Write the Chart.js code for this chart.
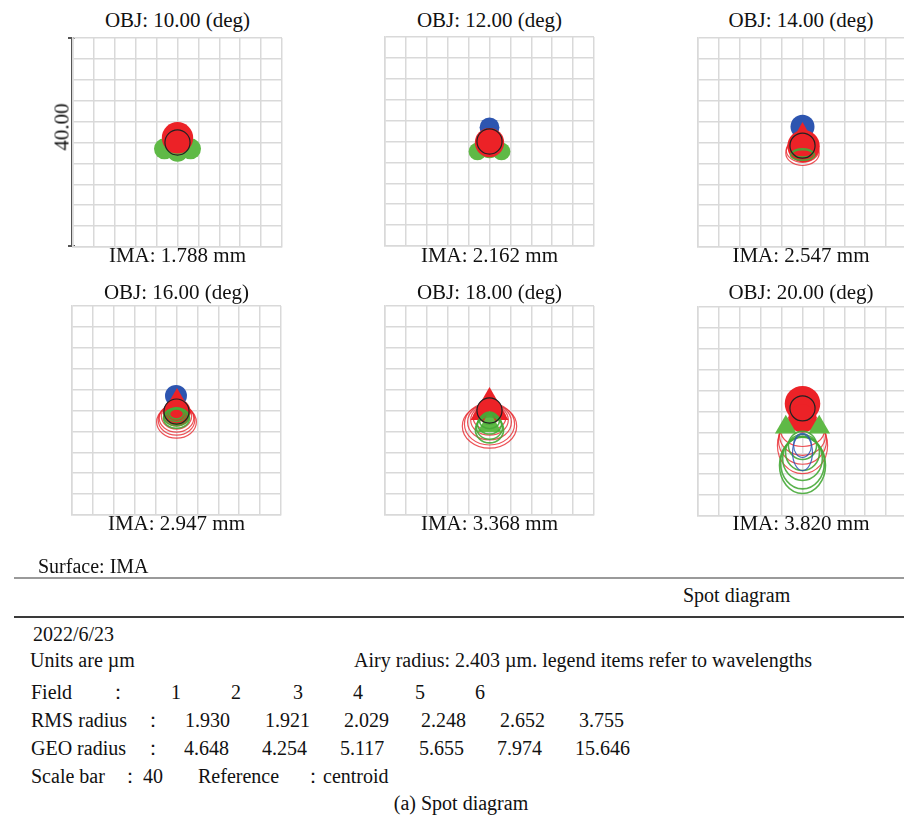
<!DOCTYPE html>
<html>
<head>
<meta charset="utf-8">
<script src="https://cdn.jsdelivr.net/npm/chart.js@4.4.1/dist/chart.umd.min.js"></script>
<style>
body{margin:0;width:904px;height:818px;overflow:hidden;background:#fff;position:relative;font-family:"Liberation Serif","Times New Roman",serif;color:#111}
.t{position:absolute;white-space:nowrap;line-height:1}
canvas{position:absolute}
.hr{position:absolute;left:14px;width:890px;height:2px}
</style>
</head>
<body>
<div class="hr" style="top:577px;background:#9a9a9a"></div>
<div class="hr" style="top:616px;background:#3a3a3a"></div>
<div style="position:absolute;left:71px;top:38px;width:2px;height:209px;background:#555"></div>
<div style="position:absolute;left:68px;top:37px;width:7px;height:2px;background:#555"></div>
<div style="position:absolute;left:68px;top:245px;width:7px;height:2px;background:#555"></div>
<script>
// field data (µm, relative to the grid centre)
var fieldAngles = ['10.00', '12.00', '14.00', '16.00', '18.00', '20.00'];
var imageHeights = ['1.788', '2.162', '2.547', '2.947', '3.368', '3.820'];
var rmsRadius = ['1.930', '1.921', '2.029', '2.248', '2.652', '3.755'];
var geoRadius = ['4.648', '4.254', '5.117', '5.655', '7.974', '15.646'];
var airyRadius = 2.403;
var scaleBar = 40;
var airyOffset = [0, 0, -0.6, -0.2, 0, 0.6];

var blueFill = [
    [{x: 0, y: 1.0, r: 2.4}],
    [{x: 0, y: 2.7, r: 1.9}],
    [{x: 0, y: 3.0, r: 2.3}],
    [{x: -0.1, y: 2.8, r: 2.1}],
    [{x: 0, y: 0.5, r: 2.0}],
    [{x: 0, y: 1.0, r: 2.4}]
];
var blueRings = [
    [], [], [], [], [],
    [{x: 0, y: -6.5, rx: 1.7, ry: 2.3}, {x: 0, y: -7.85, rx: 1.9, ry: 3.45}]
];
var greenFill = [
    [{x: -2.5, y: -1.2, r: 2.0}, {x: 2.5, y: -1.2, r: 2.0}, {x: 0, y: -0.4, r: 2.6}, {x: 0, y: -1.6, r: 2.1}],
    [{x: -2.3, y: -1.9, r: 1.7}, {x: 2.3, y: -1.9, r: 1.7}, {x: 0, y: -1.1, r: 2.1}],
    [], [], [], []
];
var greenTri = [
    [], [], [], [],
    [{x: 0, y: -2.8, r: 2.7}],
    [{x: -3.2, y: -3.0, r: 2.4}, {x: 3.2, y: -3.0, r: 2.4}]
];
var greenRings = [
    [], [],
    [{x: 0, y: -2.0, rx: 1.9, ry: 0.8}, {x: 0, y: -2.4, rx: 2.3, ry: 1.0}],
    [{x: 0, y: -0.67, rx: 1.35, ry: 0.95}, {x: 0, y: -0.86, rx: 1.7, ry: 1.25},
     {x: 0, y: -1.05, rx: 2.1, ry: 1.55}, {x: 0, y: -1.25, rx: 2.4, ry: 1.7},
     {x: 0, y: -1.5, rx: 2.5, ry: 1.9}],
    [{x: 0, y: -1.44, rx: 1.5, ry: 1.15}, {x: 0, y: -2.0, rx: 1.9, ry: 1.5},
     {x: 0, y: -2.6, rx: 2.3, ry: 1.9}, {x: 0, y: -3.2, rx: 2.5, ry: 2.3},
     {x: 0, y: -3.7, rx: 2.7, ry: 2.5}],
    [{x: 0, y: -6.5, rx: 2.7, ry: 2.7}, {x: 0, y: -7.85, rx: 3.25, ry: 3.45},
     {x: 0, y: -9.0, rx: 3.8, ry: 4.2}, {x: 0, y: -9.8, rx: 4.2, ry: 5.0},
     {x: 0, y: -10.3, rx: 4.4, ry: 5.4}]
];
var redFill = [
    [{x: 0, y: 0.9, r: 3.0}],
    [{x: 0, y: -0.2, r: 2.8}],
    [{x: 0.2, y: -0.7, r: 3.1}],
    [{x: 0.1, y: -0.3, r: 2.6}],
    [{x: 0, y: -0.1, r: 2.5}],
    [{x: 0, y: 1.5, r: 3.4}, {x: 0, y: -1.35, r: 2.7}]
];
var redTri = [
    [], [],
    [{x: 0, y: 2.4, r: 1.5}],
    [{x: 0.1, y: 1.05, r: 3.25}],
    [{x: 0, y: 0.3, r: 4.2}],
    []
];
var redRings = [
    [], [],
    [{x: 0, y: -1.5, rx: 3.1, ry: 2.3}, {x: 0, y: -2.0, rx: 3.2, ry: 2.4}],
    [{x: 0, y: -0.67, rx: 2.5, ry: 2.3}, {x: 0, y: -1.05, rx: 2.9, ry: 2.5},
     {x: 0, y: -1.44, rx: 3.3, ry: 2.7}, {x: 0, y: -1.82, rx: 3.5, ry: 2.9},
     {x: 0, y: -2.2, rx: 3.8, ry: 3.1}],
    [{x: 0, y: -1.44, rx: 3.1, ry: 2.3}, {x: 0, y: -1.82, rx: 3.6, ry: 2.9},
     {x: 0, y: -2.2, rx: 4.2, ry: 3.45}, {x: 0, y: -2.6, rx: 4.8, ry: 4.0},
     {x: 0, y: -3.0, rx: 5.2, ry: 4.2}],
    [{x: 0, y: -3.6, rx: 4.2, ry: 3.1}, {x: 0, y: -4.6, rx: 4.4, ry: 3.8},
     {x: 0, y: -5.5, rx: 4.6, ry: 4.6}, {x: 0, y: -6.5, rx: 4.8, ry: 5.4}]
];

// layout
var panelBoxes = [[73, 38], [385, 37], [698, 38], [72, 306], [385, 306], [698, 307]];
var gridSize = 209;

function addText(str, x, baseline, size, align) {
    var d = document.createElement('div');
    d.className = 't';
    d.textContent = str;
    d.style.fontSize = size + 'px';
    d.style.top = (baseline - 0.8375 * size) + 'px';
    d.style.left = x + 'px';
    if (align === 'center') d.style.transform = 'translateX(-50%)';
    document.body.appendChild(d);
    return d;
}

function umToPx(chart, r) {
    var s = chart.scales.x;
    return Math.abs(s.getPixelForValue(r) - s.getPixelForValue(0));
}

var ringPlugin = {
    id: 'rings',
    afterDatasetDraw: function(chart, args) {
        var ds = chart.data.datasets[args.index];
        if (!ds.ringColor) return;
        var xs = chart.scales.x, ys = chart.scales.y, ctx = chart.ctx;
        ctx.save();
        ctx.strokeStyle = ds.ringColor;
        ctx.lineWidth = ds.ringWidth;
        ds.data.forEach(function(p) {
            var cx = xs.getPixelForValue(p.x), cy = ys.getPixelForValue(p.y);
            var rx = xs.getPixelForValue(p.x + p.rx) - cx;
            var ry = cy - ys.getPixelForValue(p.y + p.ry);
            ctx.beginPath();
            ctx.ellipse(cx, cy, rx, ry, 0, 0, Math.PI * 2);
            ctx.stroke();
        });
        ctx.restore();
    }
};

function spots(data, color, style) {
    return {
        data: data,
        pointStyle: style || 'circle',
        backgroundColor: color,
        borderColor: color,
        pointBorderWidth: 0,
        pointRadius: function(c) { return c.raw && c.raw.r ? umToPx(c.chart, c.raw.r) : 0; }
    };
}
function rings(data, color, width) {
    return {data: data, pointRadius: 0, ringColor: color, ringWidth: width || 1.2};
}

var red = '#ec2227', green = '#5fb946', blue = '#2d55b0';

panelBoxes.forEach(function(box, f) {
    var cv = document.createElement('canvas');
    cv.width = gridSize + 2;
    cv.height = gridSize + 2;
    cv.style.left = (box[0] - 1) + 'px';
    cv.style.top = (box[1] - 1) + 'px';
    document.body.appendChild(cv);

    var axis = {
        type: 'linear',
        min: -scaleBar / 2,
        max: scaleBar / 2,
        ticks: {display: false, stepSize: scaleBar / 10},
        grid: {color: '#d9d9d9', lineWidth: 1.5, drawTicks: false},
        border: {color: '#d9d9d9', width: 1.5}
    };

    // bottom layer first; Chart.js paints the first dataset on top, so reverse
    var layers = [
        spots(blueFill[f], blue),
        rings(redRings[f], 'rgba(232,40,46,0.8)'),
        spots(greenFill[f], green),
        spots(redTri[f], red, 'triangle'),
        spots(redFill[f], red),
        spots(greenTri[f], green, 'triangle'),
        rings(greenRings[f], 'rgba(70,170,55,0.9)', 1.6),
        rings(blueRings[f], 'rgba(45,85,176,0.85)'),
        {
            data: [{x: 0, y: airyOffset[f], r: airyRadius}],
            pointStyle: 'circle',
            backgroundColor: 'rgba(0,0,0,0)',
            borderColor: '#222',
            pointBorderWidth: 1.2,
            pointRadius: function(c) { return c.raw ? umToPx(c.chart, c.raw.r) : 0; }
        }
    ].reverse();

    new Chart(cv.getContext('2d'), {
        type: 'scatter',
        data: {datasets: layers},
        options: {
            responsive: false,
            animation: false,
            devicePixelRatio: 1,
            events: [],
            layout: {padding: 1},
            plugins: {legend: {display: false}, tooltip: {enabled: false}},
            scales: {x: axis, y: axis}
        },
        plugins: [ringPlugin]
    });

    var cx = f % 3 === 2 ? 801 : box[0] + gridSize / 2;
    var row = f < 3 ? 0 : 1;
    addText('OBJ: ' + fieldAngles[f] + ' (deg)', cx, row ? 300 : 28, 21, 'center');
    addText('IMA: ' + imageHeights[f] + ' mm', cx, row ? 531 : 263, 21, 'center');
});

// scale bar label
var sb = addText(scaleBar.toFixed(2), 61.7, 127, 21, 'center');
sb.style.transform = 'translate(-50%, -50%) rotate(-90deg)';
sb.style.top = '127px';
sb.style.lineHeight = '21px';

// text block
addText('Surface: IMA', 38, 573, 20);
addText('Spot diagram', 683, 602, 20);
addText('2022/6/23', 33, 641, 20);
addText('Units are µm', 30, 667, 20);
addText('Airy radius: ' + airyRadius + ' µm. legend items refer to wavelengths', 354, 667, 20);

var colX = [176, 236, 298, 358, 420, 480];
var rmsX = [185, 265, 344, 421, 500, 579];
var geoX = [184, 262, 340, 419, 497, 575];
addText('Field', 31, 699, 20);
addText('：', 118, 699, 20, 'center');
colX.forEach(function(x, i) { addText(String(i + 1), x, 699, 20, 'center'); });
addText('RMS radius', 31, 727, 20);
addText('：', 153, 727, 20, 'center');
rmsRadius.forEach(function(v, i) { addText(v, rmsX[i], 727, 20); });
addText('GEO radius', 31, 755, 20);
addText('：', 153, 755, 20, 'center');
geoRadius.forEach(function(v, i) { addText(v, geoX[i], 755, 20); });
addText('Scale bar', 31, 783, 20);
addText('：', 130, 783, 20, 'center');
addText(String(scaleBar), 143, 783, 20);
addText('Reference', 198, 783, 20);
addText('：', 313, 783, 20, 'center');
addText('centroid', 323, 783, 20);
addText('(a) Spot diagram', 461, 810, 20, 'center');
</script>
</body>
</html>
